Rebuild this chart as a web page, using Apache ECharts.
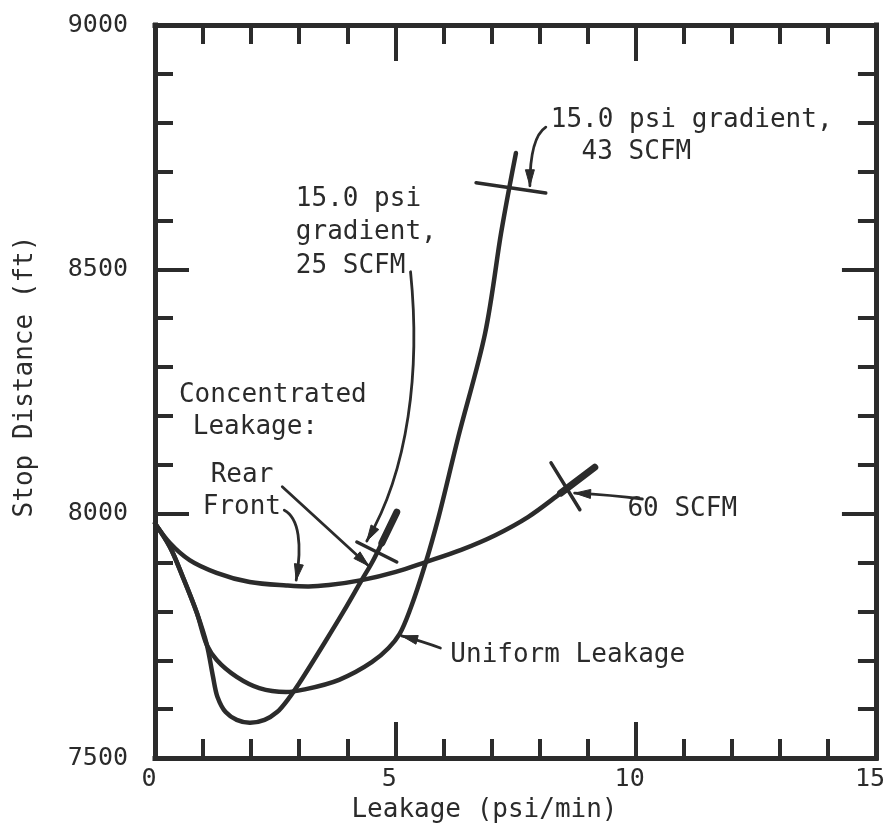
<!DOCTYPE html>
<html>
<head>
<meta charset="utf-8">
<script src="https://cdn.jsdelivr.net/npm/echarts@6/dist/echarts.min.js"></script>
<style>
  html, body { margin: 0; padding: 0; background: #ffffff; }
  #chart { width: 888px; height: 834px; }
</style>
</head>
<body>
<div id="chart"></div>
<script>
// Stop distance (ft) versus leakage rate (psi/min)

// Concentrated leakage, front of train
const frontX = [0, 0.31, 0.72, 1.28, 1.97, 2.73, 3.20, 3.62, 4.30, 5.01, 5.63, 6.37, 7.08, 7.76, 8.44, 9.15];
const frontY = [7980, 7940, 7905, 7879, 7860, 7853, 7851, 7854, 7864, 7881, 7901, 7926, 7956, 7993, 8042, 8095];

// Concentrated leakage, rear of train
const rearX = [0, 0.31, 0.58, 0.87, 1.08, 1.20, 1.30, 1.47, 1.70, 1.97, 2.28, 2.54, 2.79, 3.00, 3.56, 3.93, 4.30, 4.51, 4.72, 5.03];
const rearY = [7980, 7932, 7870, 7797, 7731, 7670, 7625, 7594, 7578, 7572, 7578, 7594, 7623, 7653, 7741, 7801, 7864, 7899, 7940, 8003];

// Uniform leakage along the train
const uniformX = [0, 0.31, 0.58, 0.87, 1.08, 1.28, 1.70, 2.17, 2.73, 3.14, 3.83, 4.51, 4.86, 5.09, 5.32, 5.63, 5.90, 6.31, 6.87, 7.20, 7.39, 7.51];
const uniformY = [7980, 7932, 7870, 7797, 7731, 7701, 7666, 7643, 7635, 7641, 7660, 7696, 7725, 7754, 7807, 7899, 7993, 8157, 8370, 8574, 8677, 8738];

// Heavier end portions of the front and rear curves
const frontTailX = [8.44, 9.15];
const frontTailY = [8042, 8095];
const rearTailX = [4.72, 5.03];
const rearTailY = [7940, 8003];

// Short cross strokes marking flow limits
const mark25X = [4.20, 5.03];
const mark25Y = [7942, 7901];
const mark43X = [6.68, 8.13];
const mark43Y = [8677, 8656];
const mark60X = [8.24, 8.84];
const mark60Y = [8104, 8008];

// Axis ranges and ticks
const xMin = 0, xMax = 15, xStep = 5;
const yMin = 7500, yMax = 9000, yStep = 500;
const xName = 'Leakage (psi/min)';
const yName = 'Stop Distance (ft)';

const INK = '#2b2b2b';
const FONT = '"DejaVu Sans Mono", monospace';

const zip = (xs, ys) => xs.map((x, i) => [x, ys[i]]);

// Centripetal Catmull-Rom path through pixel points
function splinePath(pts) {
  const a = 0.5;
  let d = 'M' + pts[0][0] + ',' + pts[0][1];
  for (let i = 0; i < pts.length - 1; i++) {
    const p0 = pts[Math.max(i - 1, 0)], p1 = pts[i], p2 = pts[i + 1], p3 = pts[Math.min(i + 2, pts.length - 1)];
    const l01 = Math.hypot(p1[0] - p0[0], p1[1] - p0[1]);
    const l12 = Math.hypot(p2[0] - p1[0], p2[1] - p1[1]);
    const l23 = Math.hypot(p3[0] - p2[0], p3[1] - p2[1]);
    const l01a = Math.pow(l01, a), l12a = Math.pow(l12, a), l23a = Math.pow(l23, a);
    const l01_2a = l01a * l01a, l12_2a = l12a * l12a, l23_2a = l23a * l23a;
    let c1 = [p1[0], p1[1]], c2 = [p2[0], p2[1]];
    if (l01a > 1e-6) {
      const A = 2 * l01_2a + 3 * l01a * l12a + l12_2a, n = 3 * l01a * (l01a + l12a);
      c1 = [(p1[0] * A - p0[0] * l12_2a + p2[0] * l01_2a) / n, (p1[1] * A - p0[1] * l12_2a + p2[1] * l01_2a) / n];
    }
    if (l23a > 1e-6) {
      const B = 2 * l23_2a + 3 * l23a * l12a + l12_2a, m = 3 * l23a * (l23a + l12a);
      c2 = [(p2[0] * B + p1[0] * l23_2a - p3[0] * l12_2a) / m, (p2[1] * B + p1[1] * l23_2a - p3[1] * l12_2a) / m];
    }
    d += 'C' + c1[0] + ',' + c1[1] + ',' + c2[0] + ',' + c2[1] + ',' + p2[0] + ',' + p2[1];
  }
  return d;
}

function curve(xs, ys, width) {
  const data = zip(xs, ys);
  return {
    type: 'custom', coordinateSystem: 'cartesian2d', xAxisIndex: 0, yAxisIndex: 0,
    data: data, encode: { x: 0, y: 1 }, silent: true, animation: false, clip: false,
    renderItem: function (params, api) {
      if (params.dataIndex !== 0) return null;
      const pts = data.map(p => api.coord(p));
      return {
        type: 'path',
        shape: { pathData: splinePath(pts) },
        style: { stroke: INK, lineWidth: width, fill: 'none', lineCap: 'round', lineJoin: 'round' }
      };
    }
  };
}
function stroke(xs, ys, width) {
  return {
    type: 'line', data: zip(xs, ys), showSymbol: false, symbol: 'none',
    silent: true, animation: false,
    lineStyle: { color: INK, width: width, cap: 'round' }
  };
}

function frameAxis(common, extra) {
  return Object.assign({
    type: 'value',
    axisLine: { show: true, onZero: false, lineStyle: { color: INK, width: 5, cap: 'square' } },
    splitLine: { show: false },
    axisLabel: { show: false },
  }, common, extra);
}

const xCommon = {
  min: xMin, max: xMax, interval: xStep,
  axisTick: { show: true, inside: true, length: 36, lineStyle: { color: INK, width: 4 } },
  minorTick: { show: true, splitNumber: 5, length: 19, lineStyle: { color: INK, width: 4 } }
};
const yCommon = {
  min: yMin, max: yMax, interval: yStep,
  axisTick: { show: true, inside: true, length: 34, lineStyle: { color: INK, width: 4 } },
  minorTick: { show: true, splitNumber: 5, length: 18, lineStyle: { color: INK, width: 4 } }
};

const option = {
  backgroundColor: '#ffffff',
  animation: false,
  grid: { left: 155, right: 8, top: 25, bottom: 76, containLabel: false },
  xAxis: [
    frameAxis(xCommon, {
      position: 'bottom',
      axisLabel: {
        show: true, color: INK, fontFamily: FONT, fontSize: 25, margin: 9,
        padding: [0, 12, 0, 0], formatter: v => String(v)
      },
      name: xName, nameLocation: 'middle', nameGap: 35,
      nameTextStyle: { color: INK, fontFamily: FONT, fontSize: 26, padding: [0, 62, 0, 0] }
    }),
    frameAxis(xCommon, { position: 'top' })
  ],
  yAxis: [
    frameAxis(yCommon, {
      position: 'left',
      axisLabel: {
        show: true, color: INK, fontFamily: FONT, fontSize: 25, margin: 27,
        padding: [0, 0, 12, 0], formatter: v => String(v)
      },
      name: yName, nameLocation: 'middle', nameGap: 117,
      nameTextStyle: { color: INK, fontFamily: FONT, fontSize: 26, padding: [0, 0, 0, 30] }
    }),
    frameAxis(yCommon, { position: 'right' })
  ],
  series: [
    curve(frontX, frontY, 4.5),
    curve(rearX, rearY, 4.5),
    curve(uniformX, uniformY, 4.5),
    stroke(frontTailX, frontTailY, 7),
    stroke(rearTailX, rearTailY, 7),
    stroke(mark25X, mark25Y, 3.5),
    stroke(mark43X, mark43Y, 3.5),
    stroke(mark60X, mark60Y, 3.5)
  ]
};

const chart = echarts.init(document.getElementById('chart'), null, { renderer: 'canvas' });
chart.setOption(option);

// Callout text and leader arrows, placed in data units
const notes = [
  { text: '15.0 psi gradient,', x: 8.235, y: 8806 },
  { text: '43 SCFM', x: 8.876, y: 8740 },
  { text: '15.0 psi', x: 2.93, y: 8643 },
  { text: 'gradient,', x: 2.93, y: 8575 },
  { text: '25 SCFM', x: 2.93, y: 8506 },
  { text: 'Concentrated', x: 0.497, y: 8243 },
  { text: 'Leakage:', x: 0.786, y: 8177 },
  { text: 'Rear', x: 1.159, y: 8079 },
  { text: 'Front', x: 0.993, y: 8014 },
  { text: '60 SCFM', x: 9.83, y: 8010 },
  { text: 'Uniform Leakage', x: 6.145, y: 7711 }
];

// Each leader: start, control 1, control 2, tip
const leaders = [
  [[8.131, 8791], [7.883, 8775], [7.800, 8724], [7.800, 8671]],
  [[5.317, 8495], [5.524, 8294], [5.276, 8089], [4.407, 7944]],
  [[2.648, 8055], [3.248, 8001], [3.848, 7947], [4.448, 7893]],
  [[2.690, 8007], [3.000, 7991], [3.062, 7936], [2.938, 7864]],
  [[10.14, 8030], [9.60, 8037], [9.145, 8040], [8.731, 8042]],
  [[5.938, 7725], [5.70, 7734], [5.483, 7741], [5.131, 7750]]
];

const P = (x, y) => chart.convertToPixel({ xAxisIndex: 0, yAxisIndex: 0 }, [x, y]);

const elements = [];
notes.forEach(n => {
  const p = P(n.x, n.y);
  elements.push({
    type: 'text', x: p[0], y: p[1], silent: true, z: 10,
    style: {
      text: n.text, fill: INK, font: '26px ' + FONT,
      textAlign: 'left', textVerticalAlign: 'middle', align: 'left', verticalAlign: 'middle'
    }
  });
});

leaders.forEach(l => {
  const a = P(...l[0]), c1 = P(...l[1]), c2 = P(...l[2]), t = P(...l[3]);
  elements.push({
    type: 'bezierCurve', silent: true, z: 10,
    shape: { x1: a[0], y1: a[1], cpx1: c1[0], cpy1: c1[1], cpx2: c2[0], cpy2: c2[1], x2: t[0], y2: t[1] },
    style: { stroke: INK, lineWidth: 2.8, fill: null, lineCap: 'round' }
  });
  const dx = t[0] - c2[0], dy = t[1] - c2[1];
  const d = Math.hypot(dx, dy) || 1;
  const ux = dx / d, uy = dy / d;
  const len = 16, half = 4.5;
  const bx = t[0] - ux * len, by = t[1] - uy * len;
  elements.push({
    type: 'polygon', silent: true, z: 11,
    shape: { points: [[t[0], t[1]], [bx - uy * half, by + ux * half], [bx + uy * half, by - ux * half]] },
    style: { fill: INK, stroke: INK, lineWidth: 1 }
  });
});

chart.setOption({ graphic: { elements: elements } });
</script>
</body>
</html>
